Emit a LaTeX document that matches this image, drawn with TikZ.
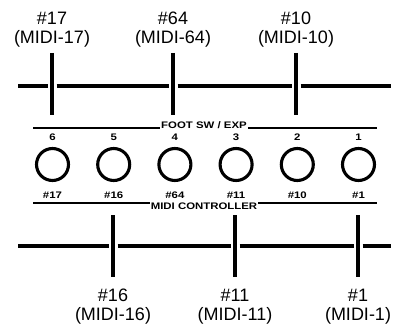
\documentclass[tikz,border=0pt]{standalone}
\usepackage{fontspec}
\setmainfont{Liberation Sans}
\newfontfamily\panelfont[FakeStretch=1.2]{Liberation Sans}
\usetikzlibrary{positioning}

\begin{document}
\begin{tikzpicture}[
    x=1pt, y=-1pt,
    bus/.style={line width=4pt},
    tap/.style={line width=3.4pt},
    rule/.style={line width=1.4pt},
    cclabel/.style={align=center, font=\fontsize{18}{19}\selectfont, inner sep=0pt},
    paneltext/.style={font=\panelfont\bfseries\fontsize{9.5}{10}\selectfont, inner sep=1pt},
    jack/.style={circle, draw, line width=3.1pt, minimum size=32pt, inner sep=0pt}
  ]
    \useasboundingbox (0,0) rectangle (396,329);

    % Upper bus with taps
    \foreach \cc/\xx in {17/52, 64/173, 10/296} {
      \node[cclabel] (up\cc) at (\xx,29.5) {\#\cc\\(MIDI-\cc)};
      \coordinate (upT\cc) at (\xx,53);
      \coordinate (upB\cc) at (\xx,115);
      \draw[tap] (upT\cc) -- (upB\cc);
    }
    \draw[bus] (18,86) -- (47.5,86) (56.5,86) -- (168.5,86)
               (177.5,86) -- (291.5,86) (300.5,86) -- (391,86);

    % Panel: jacks and captions
    \node[paneltext] (foot) at (204,125.5) {FOOT SW / EXP};
    \coordinate (footL) at (33,128);
    \coordinate (footR) at (377,128);
    \draw[rule] (footL) -- (foot.west |- footL);
    \draw[rule] (foot.east |- footR) -- (footR);

    \foreach \num/\cc [count=\i from 0] in {6/17, 5/16, 4/64, 3/11, 2/10, 1/1} {
      \node[jack] (jack\num) at (52.5+61.2*\i,164.5) {};
      \node[paneltext] (num\num) at (52.5+61.2*\i,137.5) {\num};
      \node[paneltext] (cc\num) at (52.5+61.2*\i,195.5) {\#\cc};
    }

    \node[paneltext] (midi) at (204,206.5) {MIDI CONTROLLER};
    \coordinate (midiL) at (33,203);
    \coordinate (midiR) at (377,203);
    \draw[rule] (midiL) -- (midi.west |- midiL);
    \draw[rule] (midi.east |- midiR) -- (midiR);

    % Lower bus with taps
    \foreach \cc/\xx in {16/113, 11/235, 1/358} {
      \node[cclabel] (lo\cc) at (\xx,306.5) {\#\cc\\(MIDI-\cc)};
      \coordinate (loT\cc) at (\xx,215);
      \coordinate (loB\cc) at (\xx,277);
      \draw[tap] (loT\cc) -- (loB\cc);
    }
    \draw[bus] (18,246) -- (108.5,246) (117.5,246) -- (230.5,246)
               (239.5,246) -- (353.5,246) (362.5,246) -- (391,246);

  \end{tikzpicture}
\end{document}
